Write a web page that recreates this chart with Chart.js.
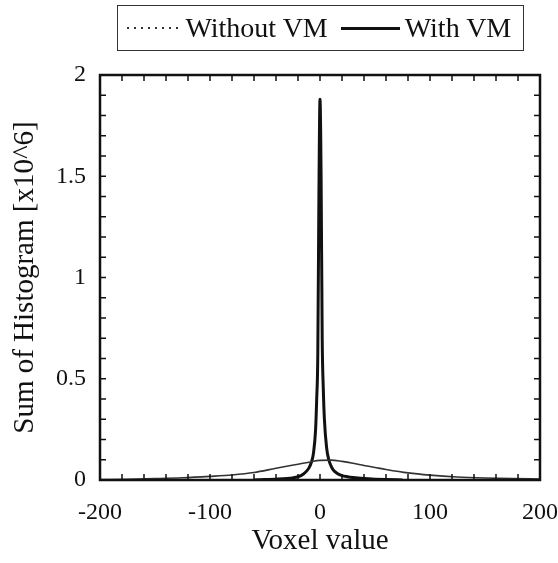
<!DOCTYPE html>
<html lang="en">
<head>
  <meta charset="UTF-8">
  <title>Sum of Histogram</title>
  <script src="https://cdn.jsdelivr.net/npm/chart.js"></script>
  <style>
    * { box-sizing: border-box; margin: 0; padding: 0; }
    body { background: #fff; width: 558px; height: 563px; overflow: hidden; position: relative; font-family: 'Liberation Serif', 'DejaVu Serif', serif; }
    #wrap { position: absolute; left: 0; top: 0; width: 558px; height: 563px; }
    .legend {
      position: absolute; left: 117px; top: 5px; width: 407px; height: 46px;
      border: 1.5px solid #333; display: flex; align-items: center; padding-left: 8.5px;
      font-size: 28px; color: #111; white-space: nowrap;
    }
    .sample { display: inline-block; flex: none; }
    .dotted { width: 53px; height: 1.5px; margin-right: 6px;
              background: repeating-linear-gradient(90deg, #333 0 2px, transparent 2px 7px); }
    .solid  { width: 59px; height: 3px; background: #111; margin: 0 5px 0 13px; }
  </style>
</head>
<body>
  <div id="wrap"><canvas id="c" width="558" height="563"></canvas></div>
  <div class="legend">
    <span class="sample dotted"></span><span>Without VM</span>
    <span class="sample solid"></span><span>With VM</span>
  </div>

  <script>
    // Without VM (broad curve)
    const xWithout = [-200, -175, -150, -125, -100, -80, -60, -40, -20, -10, 0, 10, 20, 30, 40, 50, 60, 80, 100, 125, 150, 175, 200];
    const yWithout = [0.002, 0.004, 0.007, 0.011, 0.018, 0.025, 0.037, 0.058, 0.078, 0.088, 0.097, 0.098, 0.092, 0.083, 0.072, 0.062, 0.052, 0.035, 0.024, 0.015, 0.010, 0.007, 0.005];

    // With VM (sharp peak)
    const xWith = [-60, -50, -40, -30, -25, -20, -15, -12, -10, -8, -6, -4, -3, -2, -1, 0, 1, 2, 3, 4, 6, 8, 10, 12, 15, 20, 25, 30, 40, 50, 60, 75];
    const yWith = [0.0, 0.002, 0.004, 0.007, 0.010, 0.016, 0.030, 0.045, 0.060, 0.085, 0.13, 0.25, 0.40, 0.62, 1.40, 1.88, 1.50, 0.70, 0.45, 0.30, 0.16, 0.10, 0.07, 0.05, 0.035, 0.022, 0.016, 0.012, 0.007, 0.004, 0.002, 0.0];

    const xTicks = ['-200', '-100', '0', '100', '200'];
    const yTicks = ['0', '0.5', '1', '1.5', '2'];

    const pts = (xs, ys) => xs.map((x, i) => ({ x: x, y: ys[i] }));
    const FONT = 'Liberation Serif';

    // frame + inward ticks on all four sides
    const framePlugin = {
      id: 'frame',
      afterDatasetsDraw(chart) {
        const { ctx, chartArea: a, scales } = chart;
        ctx.save();
        ctx.strokeStyle = '#111';
        ctx.lineWidth = 1.5;
        ctx.beginPath();
        scales.x.ticks.forEach(t => {
          const px = scales.x.getPixelForValue(t.value);
          ctx.moveTo(px, a.bottom); ctx.lineTo(px, a.bottom - 6);
          ctx.moveTo(px, a.top);    ctx.lineTo(px, a.top + 6);
        });
        scales.y.ticks.forEach(t => {
          const py = scales.y.getPixelForValue(t.value);
          ctx.moveTo(a.left, py);  ctx.lineTo(a.left + 6, py);
          ctx.moveTo(a.right, py); ctx.lineTo(a.right - 6, py);
        });
        ctx.stroke();
        ctx.lineWidth = 2.5;
        ctx.strokeRect(a.left, a.top, a.right - a.left, a.bottom - a.top);
        ctx.restore();
      }
    };

    new Chart(document.getElementById('c'), {
      type: 'line',
      data: {
        datasets: [
          { label: 'Without VM', data: pts(xWithout, yWithout), borderColor: '#333', borderWidth: 1.6,
            pointRadius: 0, cubicInterpolationMode: 'monotone', fill: false },
          { label: 'With VM', data: pts(xWith, yWith), borderColor: '#111', borderWidth: 3,
            pointRadius: 0, cubicInterpolationMode: 'monotone', fill: false }
        ]
      },
      options: {
        responsive: false,
        animation: false,
        layout: { padding: { top: 75, right: 18, left: 0, bottom: 0 } },
        plugins: { legend: { display: false }, tooltip: { enabled: false } },
        scales: {
          x: {
            type: 'linear', min: -200, max: 200,
            afterFit: s => { s.height = 83; s.paddingLeft = 0; s.paddingRight = 0; },
            grid: { display: false, drawTicks: false },
            border: { display: false },
            ticks: {
              stepSize: 20, autoSkip: false, maxRotation: 0, padding: 18,
              color: '#111', font: { family: FONT, size: 24 },
              callback: v => (Math.round(v) % 100 === 0 ? xTicks[(Math.round(v) + 200) / 100] : '')
            },
            title: { display: true, text: 'Voxel value', color: '#111', font: { family: FONT, size: 29 }, padding: { top: 0 } }
          },
          y: {
            min: 0, max: 2,
            afterFit: s => { s.width = 100; s.paddingTop = 0; s.paddingBottom = 0; },
            grid: { display: false, drawTicks: false },
            border: { display: false },
            ticks: {
              stepSize: 0.1, autoSkip: false, padding: 14,
              color: '#111', font: { family: FONT, size: 24 },
              callback: v => {
                const k = Math.round(v * 10);
                return k % 5 === 0 ? yTicks[k / 5] : '';
              }
            },
            title: { display: true, text: 'Sum of Histogram [x10^6]', color: '#111', font: { family: FONT, size: 29 }, padding: { top: 8, bottom: 4 } }
          }
        }
      },
      plugins: [framePlugin]
    });
  </script>
</body>
</html>
